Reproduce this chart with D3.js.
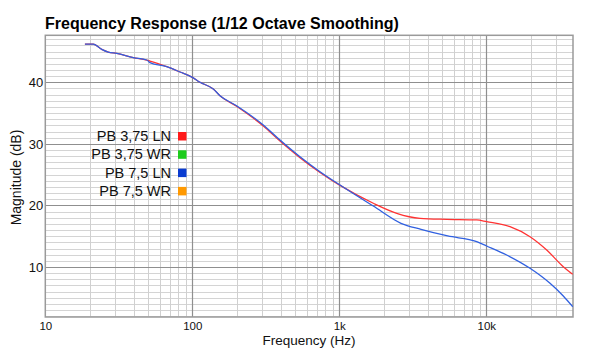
<!DOCTYPE html>
<html><head><meta charset="utf-8">
<script src="https://cdn.jsdelivr.net/npm/d3@7"></script>
<style>body{margin:0;background:#fff}svg{display:block}text{font-family:"Liberation Sans",Arial,Helvetica,sans-serif}</style>
</head><body>
<svg id="c" width="606" height="356"></svg>
<script>
const title = "Frequency Response (1/12 Octave Smoothing)";
const xLabel = "Frequency (Hz)";
const yLabel = "Magnitude (dB)";
const xTickValues = [10, 100, 1000, 10000];
const xTickLabels = ["10", "100", "1k", "10k"];
const yTickValues = [10, 20, 30, 40];
const seriesNames = ["PB 3,75 LN", "PB 3,75 WR", "PB 7,5 LN", "PB 7,5 WR"];
const seriesColors = ["#ff1a1a", "#1ccc1c", "#0a3cd0", "#ff9900"];
const lineColors = ["#ff3333", null, "#3060e0", null];

const freqShared = [18.6, 21.2, 24.2, 26.8, 30.6, 39.7, 49, 51.5, 67, 82.5, 100, 112.8, 139, 154.3, 200, 304, 395, 540, 739, 1011, 1703];
const pb375ln_low = [46.2, 46.2, 45.36, 44.92, 44.71, 44.0, 43.62, 43.45, 42.53, 41.67, 40.81, 40.0, 38.91, 37.82, 36.1, 32.9, 30.45, 27.75, 25.35, 23.25, 20.35];
const pb75ln_low  = [46.2, 46.2, 45.36, 44.92, 44.71, 44.0, 43.62, 43.2, 42.53, 41.67, 40.81, 40.0, 38.91, 37.82, 36.2, 33.06, 30.62, 27.91, 25.48, 23.32, 19.9];
const freqRedHigh = [2458, 3540, 5378, 8604, 10060, 14500, 19830, 25760, 33400, 38700];
const pb375ln_high = [18.72, 17.91, 17.75, 17.64, 17.36, 16.55, 14.92, 12.76, 10.05, 8.82];
const freqBlueHigh = [2628, 3596, 5463, 8604, 10060, 13760, 19830, 27130, 33400, 38700];
const pb75ln_high = [17.1, 16.12, 15.04, 14.11, 13.41, 11.95, 9.79, 7.35, 5.29, 3.55];

const svg = d3.select("#c");
const L = 45.3, R = 573, T = 35.3, B = 317;
const x = d3.scaleLog().domain([10, 10 * Math.pow(10, (R - L) / 147)]).range([L, R]);
const y = d3.scaleLinear().domain([10 - (B - 267) / 6.157, 40 + (82.3 - T) / 6.157]).range([B, T]);

// minor grid
const g = svg.append("g");
const ydom = y.domain();
for (let v = Math.ceil(ydom[0]); v <= Math.floor(ydom[1]); v++) {
  if (v % 10 === 0) continue;
  g.append("line").attr("x1", L).attr("x2", R).attr("y1", Math.round(y(v)) + 0.5).attr("y2", Math.round(y(v)) + 0.5).attr("stroke", "#d4d4d4").attr("stroke-width", 1);
}
const xdom = x.domain();
for (let d = 10; d < xdom[1]; d *= 10) {
  for (let m = 2; m <= 9; m++) {
    const f = d * m;
    if (f >= xdom[1]) break;
    g.append("line").attr("x1", Math.round(x(f)) + 0.5).attr("x2", Math.round(x(f)) + 0.5).attr("y1", T).attr("y2", B).attr("stroke", "#d0d0d0").attr("stroke-width", 1);
  }
}
// major grid
yTickValues.forEach(v => g.append("line").attr("x1", L).attr("x2", R).attr("y1", Math.round(y(v)) + 0.5).attr("y2", Math.round(y(v)) + 0.5).attr("stroke", "#8f8f8f").attr("stroke-width", 1.2));
xTickValues.slice(1).forEach(v => g.append("line").attr("x1", Math.round(x(v)) + 0.5).attr("x2", Math.round(x(v)) + 0.5).attr("y1", T).attr("y2", B).attr("stroke", "#8f8f8f").attr("stroke-width", 1.2));
// border
svg.append("rect").attr("x", L).attr("y", T).attr("width", R - L).attr("height", B - T).attr("fill", "none").attr("stroke", "#9a9a9a").attr("stroke-width", 1.5);

// axes labels via d3 axes
const xAxis = d3.axisBottom(x).tickValues(xTickValues).tickFormat((d, i) => xTickLabels[i]).tickSize(0).tickPadding(5);
const xa = svg.append("g").attr("transform", `translate(0,${B})`).call(xAxis);
xa.select(".domain").remove();
xa.selectAll("text").attr("font-size", 11.5).attr("fill", "#111").style("font-family", '"Liberation Sans",Arial,sans-serif');
const yAxis = d3.axisLeft(y).tickValues(yTickValues).tickSize(0).tickPadding(2);
const ya = svg.append("g").attr("transform", `translate(${L},0)`).call(yAxis);
ya.select(".domain").remove();
ya.selectAll("text").attr("font-size", 13).attr("fill", "#111").style("font-family", '"Liberation Sans",Arial,sans-serif');

// lines
const line = d3.line().x(d => x(d[0])).y(d => y(d[1])).curve(d3.curveMonotoneX);
const redData = freqShared.map((f, i) => [f, pb375ln_low[i]]).concat(freqRedHigh.map((f, i) => [f, pb375ln_high[i]]));
const blueData = freqShared.map((f, i) => [f, pb75ln_low[i]]).concat(freqBlueHigh.map((f, i) => [f, pb75ln_high[i]]));
svg.append("clipPath").attr("id", "clip").append("rect").attr("x", L).attr("y", T).attr("width", R - L).attr("height", B - T);
svg.append("path").attr("d", line(redData)).attr("fill", "none").attr("stroke", lineColors[0]).attr("stroke-width", 1.3).attr("clip-path", "url(#clip)");
svg.append("path").attr("d", line(blueData)).attr("fill", "none").attr("stroke", lineColors[2]).attr("stroke-width", 1.3).attr("clip-path", "url(#clip)");

// legend
seriesNames.forEach((n, i) => {
  const cy = 136 + i * 18.3;
  svg.append("text").attr("x", 171).attr("y", cy + 5).attr("text-anchor", "end").attr("font-size", 14.5).attr("fill", "#111").text(n);
  svg.append("rect").attr("x", 178).attr("y", cy - 4).attr("width", 8.5).attr("height", 8.5).attr("fill", seriesColors[i]);
});

// titles
svg.append("text").attr("x", 45).attr("y", 29).attr("font-size", 16).attr("font-weight", "bold").attr("fill", "#000").text(title);
svg.append("text").attr("x", 309).attr("y", 345).attr("text-anchor", "middle").attr("font-size", 13.5).attr("fill", "#111").text(xLabel);
svg.append("text").attr("transform", `translate(21,177.5) rotate(-90)`).attr("text-anchor", "middle").attr("font-size", 14).attr("fill", "#111").text(yLabel);
</script>
</body></html>
